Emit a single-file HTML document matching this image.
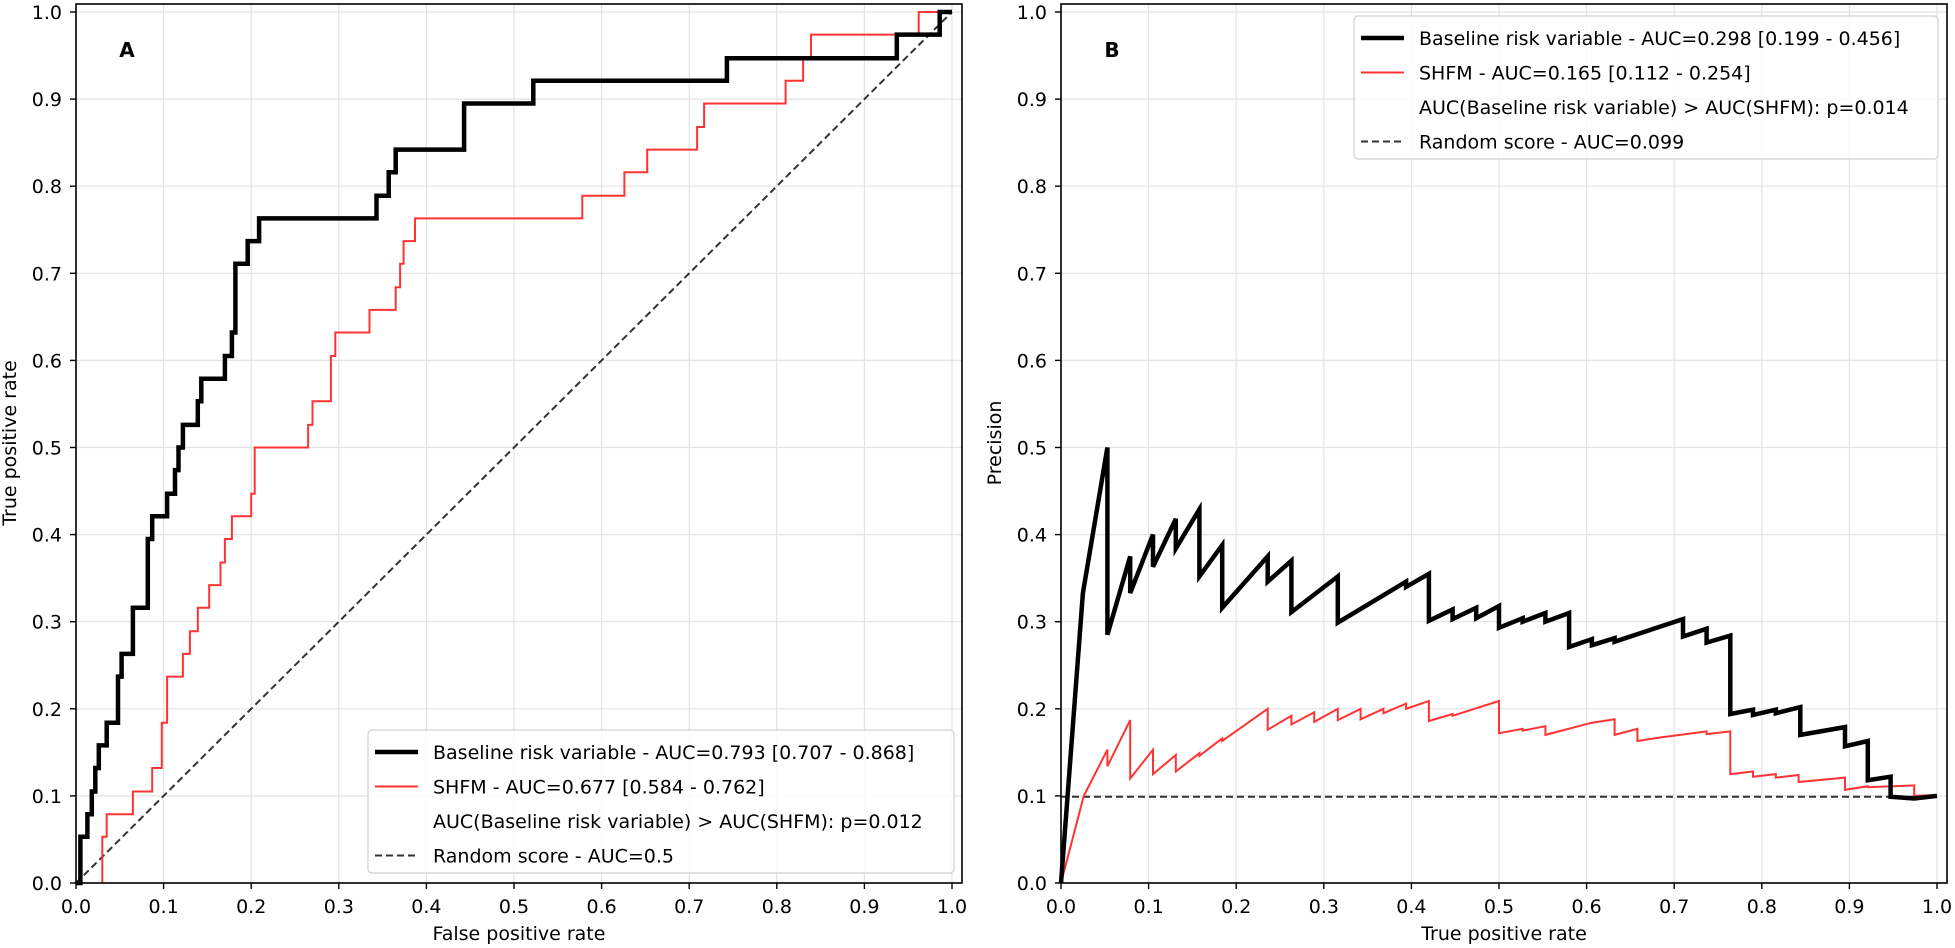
<!DOCTYPE html>
<html><head><meta charset="utf-8"><style>
html,body{margin:0;padding:0;background:#fff;}
svg{display:block;font-family:"DejaVu Sans","Liberation Sans",sans-serif;}
</style></head><body>
<svg id="fig" width="1955" height="948" viewBox="0 0 1955 948" xmlns="http://www.w3.org/2000/svg"></svg>
<script>
// ROC panel A data (step vertices)
const rocBaseFpr=[0,0.005,0.005,0.013,0.013,0.018,0.018,0.022,0.022,0.026,0.026,0.035,0.035,0.048,0.048,0.052,0.052,0.065,0.065,0.082,0.082,0.087,0.087,0.104,0.104,0.113,0.113,0.117,0.117,0.122,0.122,0.139,0.139,0.143,0.143,0.17,0.17,0.178,0.178,0.182,0.182,0.196,0.196,0.209,0.209,0.343,0.343,0.357,0.357,0.365,0.365,0.443,0.443,0.522,0.522,0.743,0.743,0.937,0.937,0.986,0.986,1];
const rocBaseTpr=[0,0,0.053,0.053,0.079,0.079,0.105,0.105,0.132,0.132,0.158,0.158,0.184,0.184,0.237,0.237,0.263,0.263,0.316,0.316,0.395,0.395,0.421,0.421,0.447,0.447,0.474,0.474,0.5,0.5,0.526,0.526,0.553,0.553,0.579,0.579,0.605,0.605,0.632,0.632,0.711,0.711,0.737,0.737,0.763,0.763,0.789,0.789,0.816,0.816,0.842,0.842,0.895,0.895,0.921,0.921,0.947,0.947,0.974,0.974,1,1];
const rocShfmFpr=[0.03,0.03,0.035,0.035,0.065,0.065,0.087,0.087,0.098,0.098,0.104,0.104,0.122,0.122,0.13,0.13,0.139,0.139,0.152,0.152,0.165,0.165,0.17,0.17,0.178,0.178,0.2,0.2,0.204,0.204,0.265,0.265,0.27,0.27,0.291,0.291,0.296,0.296,0.335,0.335,0.365,0.365,0.37,0.37,0.374,0.374,0.387,0.387,0.578,0.578,0.626,0.626,0.652,0.652,0.709,0.709,0.717,0.717,0.81,0.81,0.83,0.83,0.839,0.839,0.962,0.962,1];
const rocShfmTpr=[0,0.053,0.053,0.079,0.079,0.105,0.105,0.132,0.132,0.184,0.184,0.237,0.237,0.263,0.263,0.289,0.289,0.316,0.316,0.342,0.342,0.368,0.368,0.395,0.395,0.421,0.421,0.447,0.447,0.5,0.5,0.526,0.526,0.553,0.553,0.605,0.605,0.632,0.632,0.658,0.658,0.684,0.684,0.711,0.711,0.737,0.737,0.763,0.763,0.789,0.789,0.816,0.816,0.842,0.842,0.868,0.868,0.895,0.895,0.921,0.921,0.947,0.947,0.974,0.974,1,1];
// PR panel B data
const prBaseRec=[0,0.025,0.053,0.053,0.079,0.079,0.105,0.105,0.131,0.131,0.158,0.158,0.184,0.184,0.236,0.236,0.263,0.263,0.316,0.316,0.394,0.394,0.42,0.42,0.447,0.447,0.474,0.474,0.5,0.5,0.527,0.527,0.553,0.553,0.58,0.58,0.606,0.606,0.632,0.632,0.71,0.71,0.737,0.737,0.764,0.764,0.79,0.79,0.816,0.816,0.844,0.844,0.895,0.895,0.921,0.921,0.947,0.947,0.974,1];
const prBasePrec=[0,0.333,0.5,0.285,0.375,0.333,0.4,0.363,0.418,0.384,0.429,0.352,0.388,0.316,0.375,0.346,0.37,0.311,0.352,0.299,0.346,0.34,0.355,0.301,0.314,0.303,0.316,0.304,0.318,0.293,0.304,0.3,0.31,0.3,0.31,0.271,0.28,0.273,0.281,0.277,0.303,0.283,0.292,0.276,0.284,0.194,0.199,0.193,0.199,0.195,0.202,0.17,0.179,0.157,0.163,0.118,0.122,0.099,0.097,0.1];
const prShfmRec=[0,0.026,0.053,0.053,0.079,0.079,0.105,0.105,0.131,0.131,0.158,0.158,0.184,0.184,0.236,0.236,0.263,0.263,0.289,0.289,0.316,0.316,0.342,0.342,0.368,0.368,0.394,0.394,0.42,0.42,0.447,0.447,0.5,0.5,0.527,0.527,0.553,0.553,0.606,0.632,0.632,0.658,0.658,0.684,0.737,0.737,0.764,0.764,0.79,0.79,0.816,0.816,0.842,0.842,0.895,0.895,0.921,0.921,0.974,0.974,1];
const prShfmPrec=[0,0.1,0.153,0.134,0.187,0.12,0.153,0.125,0.147,0.128,0.149,0.146,0.166,0.163,0.2,0.176,0.192,0.182,0.196,0.185,0.2,0.187,0.2,0.188,0.2,0.195,0.206,0.2,0.209,0.186,0.194,0.192,0.209,0.172,0.177,0.175,0.18,0.17,0.184,0.188,0.17,0.177,0.163,0.167,0.174,0.171,0.174,0.125,0.128,0.122,0.125,0.121,0.124,0.116,0.121,0.107,0.111,0.11,0.112,0.1,0.101];
const ticks=[0,0.1,0.2,0.3,0.4,0.5,0.6,0.7,0.8,0.9,1.0];
const tickLabels=["0.0","0.1","0.2","0.3","0.4","0.5","0.6","0.7","0.8","0.9","1.0"];
const randomPrecision=0.099;

const svg=document.getElementById('fig');
const NS='http://www.w3.org/2000/svg';
function mk(tag,attrs,parent){const e=document.createElementNS(NS,tag);for(const k in attrs)e.setAttribute(k,attrs[k]);(parent||svg).appendChild(e);return e;}

function panel(cfg){
  const g=mk('g',{});
  
  
  const x0=cfg.left, bottom=883, top=4, sx=876, sy=871;
  const X=v=>x0+v*sx, Y=v=>bottom-v*sy;
  ticks.forEach((t,i)=>{
    const gx=mk('line',{x1:X(t),x2:X(t),y1:top,y2:bottom,stroke:'#e3e3e3','stroke-width':1.2},g);
    
    
    const gy=mk('line',{x1:x0,x2:x0+886,y1:Y(t),y2:Y(t),stroke:'#e3e3e3','stroke-width':1.2},g);
    
    
  });
  cfg.draw(g,X,Y);
  const fr=mk('rect',{x:x0,y:top,width:886,height:bottom-top,fill:'none',stroke:'#000','stroke-width':1.6},g);
  
  
  ticks.forEach((t,i)=>{
    mk('line',{x1:X(t),x2:X(t),y1:bottom,y2:bottom+6,stroke:'#000','stroke-width':1.4},g);
    const tx=mk('text',{x:X(t),y:bottom+30,'font-size':19,'text-anchor':'middle',fill:'#000'},g);
    tx.textContent=tickLabels[i];
    
    
    mk('line',{x1:x0-6,x2:x0,y1:Y(t),y2:Y(t),stroke:'#000','stroke-width':1.4},g);
    const ty=mk('text',{x:x0-14,y:Y(t)+7,'font-size':19,'text-anchor':'end',fill:'#000'},g);
    ty.textContent=tickLabels[i];
    
    
  });
  const xl=mk('text',{x:x0+443,y:940,'font-size':19,'text-anchor':'middle'},g);
  xl.textContent=cfg.xlabel;
  
  
  const yl=mk('text',{x:0,y:0,'font-size':19,'text-anchor':'middle',transform:`translate(${x0-60},443) rotate(-90)`},g);
  yl.textContent=cfg.ylabel;
  
  
  const lt=mk('text',{x:x0+51,y:57,'font-size':20,'font-weight':'bold','text-anchor':'middle'},g);
  lt.textContent=cfg.letter;
  
  
  const L=cfg.legend;
  const lg=mk('g',{},g);
  
  
  mk('rect',{x:L.x,y:L.y,width:L.w,height:143,rx:4,fill:'#fff','fill-opacity':0.85,stroke:'#d0d0d0','stroke-width':1.2},lg);
  const styles=[{stroke:'#000','stroke-width':4.5},{stroke:'#ff3333','stroke-width':2},null,{stroke:'#333','stroke-width':2,'stroke-dasharray':'7,4'}];
  L.items.forEach((txt,i)=>{
    const yy=L.y+22+i*34.5;
    if(styles[i]){const h=mk('line',Object.assign({x1:L.x+7,x2:L.x+50,y1:yy,y2:yy},styles[i]),lg);
      
      }
    const t=mk('text',{x:L.x+65,y:yy+7,'font-size':19},lg);
    t.textContent=txt;
    
    
  });
}
function poly(g,xs,ys,X,Y,attrs,name){
  const pts=xs.map((v,i)=>X(v).toFixed(1)+','+Y(ys[i]).toFixed(1)).join(' ');
  const p=mk('polyline',Object.assign({points:pts,fill:'none','stroke-linejoin':'miter'},attrs),g);
  
  
}
panel({name:'roc-panel',left:76,letter:'A',xlabel:'False positive rate',ylabel:'True positive rate',
  legend:{x:368,y:730,w:586,items:['Baseline risk variable - AUC=0.793 [0.707 - 0.868]','SHFM - AUC=0.677 [0.584 - 0.762]','AUC(Baseline risk variable) > AUC(SHFM): p=0.012','Random score - AUC=0.5']},
  draw:(g,X,Y)=>{
    poly(g,[0,1],[0,1],X,Y,{stroke:'#333','stroke-width':2,'stroke-dasharray':'7,4'},'random-diagonal');
    poly(g,rocShfmFpr,rocShfmTpr,X,Y,{stroke:'#ff3333','stroke-width':2},'shfm-roc-line');
    poly(g,rocBaseFpr,rocBaseTpr,X,Y,{stroke:'#000','stroke-width':4.5},'baseline-roc-line');
  }});
panel({name:'pr-panel',left:1061,letter:'B',xlabel:'True positive rate',ylabel:'Precision',
  legend:{x:1354,y:16,w:584,items:['Baseline risk variable - AUC=0.298 [0.199 - 0.456]','SHFM - AUC=0.165 [0.112 - 0.254]','AUC(Baseline risk variable) > AUC(SHFM): p=0.014','Random score - AUC=0.099']},
  draw:(g,X,Y)=>{
    poly(g,[0,1],[randomPrecision,randomPrecision],X,Y,{stroke:'#333','stroke-width':2,'stroke-dasharray':'7,4'},'random-baseline');
    poly(g,prShfmRec,prShfmPrec,X,Y,{stroke:'#ff3333','stroke-width':2},'shfm-pr-line');
    poly(g,prBaseRec,prBasePrec,X,Y,{stroke:'#000','stroke-width':4.5},'baseline-pr-line');
  }});
</script>
</body></html>
